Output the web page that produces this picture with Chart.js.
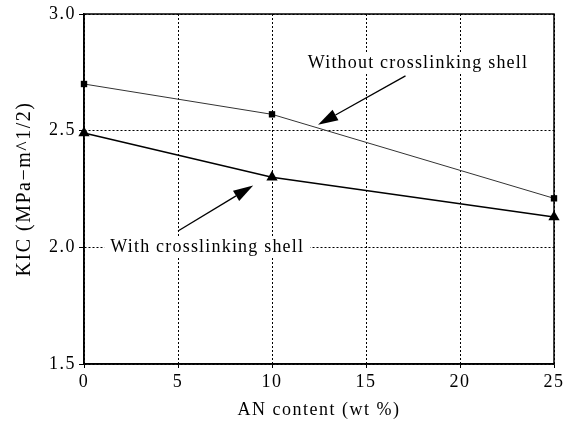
<!DOCTYPE html>
<html>
<head>
<meta charset="utf-8">
<script src="https://cdn.jsdelivr.net/npm/chart.js@4/dist/chart.umd.min.js"></script>
<style>
  html, body { margin: 0; padding: 0; background: #fff; }
  #wrap { width: 569px; height: 424px; }
</style>
</head>
<body>
<div id="wrap"><canvas id="kic-chart"></canvas></div>
<script>
const anContent = [0, 10, 25];
const withoutShell = [2.70, 2.57, 2.21];
const withShell = [2.49, 2.30, 2.13];
const xTicks = [0, 5, 10, 15, 20, 25];
const yTicks = [1.5, 2.0, 2.5, 3.0];

// annotation labels and arrows, in data units
const notes = [
    { text: 'Without crosslinking shell', x: 11.9, y: 2.79, from: [17.1, 2.735], to: [12.45, 2.525] },
    { text: 'With crosslinking shell', x: 1.4, y: 2.0, from: [5.0, 2.07], to: [9.0, 2.265] }
];

const serif = '"Liberation Serif", "Times New Roman", serif';

let drawArrow = (ctx, x1, y1, x2, y2) => {
    let ang = Math.atan2(y2 - y1, x2 - x1);
    let len = 20, half = 6;
    let bx = x2 - len * Math.cos(ang), by = y2 - len * Math.sin(ang);
    ctx.beginPath();
    ctx.moveTo(x1, y1);
    ctx.lineTo(bx, by);
    ctx.lineWidth = 1.3;
    ctx.strokeStyle = '#000';
    ctx.stroke();
    ctx.beginPath();
    ctx.moveTo(x2, y2);
    ctx.lineTo(bx + half * Math.sin(ang), by - half * Math.cos(ang));
    ctx.lineTo(bx - half * Math.sin(ang), by + half * Math.cos(ang));
    ctx.closePath();
    ctx.fillStyle = '#000';
    ctx.fill();
};

// wide letter spacing like the scanned figure
const spacingPlugin = {
    id: 'spacing',
    beforeLayout(chart) { chart.ctx.letterSpacing = '1.5px'; },
    beforeDraw(chart) { chart.ctx.letterSpacing = '1.5px'; }
};

const notesPlugin = {
    id: 'notes',
    beforeDatasetsDraw(chart) {
        let ctx = chart.ctx, a = chart.chartArea;
        let xs = chart.scales.x, ys = chart.scales.y;
        ctx.save();
        ctx.strokeStyle = '#000';
        ctx.lineWidth = 1.5;
        ctx.strokeRect(a.left, a.top, a.right - a.left, a.bottom - a.top);
        ctx.font = '18px ' + serif;
        ctx.letterSpacing = '1.2px';
        ctx.textBaseline = 'middle';
        notes.forEach(n => {
            let px = xs.getPixelForValue(n.x), py = ys.getPixelForValue(n.y);
            let w = ctx.measureText(n.text).width;
            ctx.fillStyle = '#fff';
            ctx.fillRect(px - 6, py - 10, w + 12, 20);
            ctx.fillStyle = '#000';
            ctx.fillText(n.text, px, py);
            drawArrow(ctx,
                xs.getPixelForValue(n.from[0]), ys.getPixelForValue(n.from[1]),
                xs.getPixelForValue(n.to[0]), ys.getPixelForValue(n.to[1]));
        });
        ctx.restore();
    }
};

let ctx = document.getElementById('kic-chart').getContext('2d');
let chart = new Chart(ctx, {
    type: 'line',
    data: {
        datasets: [{
            label: 'Without crosslinking shell',
            data: anContent.map((x, i) => ({ x: x, y: withoutShell[i] })),
            borderColor: '#333',
            borderWidth: 1,
            pointStyle: 'rect',
            pointRadius: 4.5,
            pointBackgroundColor: '#000',
            pointBorderColor: '#000',
            pointBorderWidth: 0,
            clip: false,
            tension: 0
        }, {
            label: 'With crosslinking shell',
            data: anContent.map((x, i) => ({ x: x, y: withShell[i] })),
            borderColor: '#000',
            borderWidth: 1.5,
            pointStyle: 'triangle',
            pointRadius: 6.5,
            pointBackgroundColor: '#000',
            pointBorderColor: '#000',
            pointBorderWidth: 0,
            clip: false,
            tension: 0
        }]
    },
    options: {
        responsive: true,
        maintainAspectRatio: false,
        animation: false,
        layout: { padding: { top: 14, right: 15, left: 0, bottom: 0 } },
        plugins: {
            legend: { display: false },
            tooltip: { enabled: false }
        },
        scales: {
            x: {
                type: 'linear',
                min: 0,
                max: 25,
                afterBuildTicks: s => { s.ticks = xTicks.map(v => ({ value: v })); },
                afterFit: s => { s.height = 60; },
                ticks: {
                    color: '#000',
                    font: { family: serif, size: 18 },
                    padding: 3,
                    maxRotation: 0
                },
                grid: {
                    color: '#000',
                    lineWidth: 1,
                    tickLength: 4,
                    tickBorderDash: []
                },
                border: { display: true, color: '#000', width: 1.5, dash: [2, 2] },
                title: {
                    display: true,
                    text: 'AN content (wt %)',
                    color: '#000',
                    font: { family: serif, size: 18 },
                    padding: { top: 0, bottom: 3 }
                }
            },
            y: {
                type: 'linear',
                min: 1.5,
                max: 3.0,
                afterBuildTicks: s => { s.ticks = yTicks.map(v => ({ value: v })); },
                afterFit: s => { s.width = 84; },
                ticks: {
                    color: '#000',
                    font: { family: serif, size: 18 },
                    padding: 3,
                    callback: v => v.toFixed(1)
                },
                grid: {
                    color: '#000',
                    lineWidth: 1,
                    tickLength: 5,
                    tickBorderDash: []
                },
                border: { display: true, color: '#000', width: 1.5, dash: [2, 2] },
                title: {
                    display: true,
                    text: 'KIC (MPa\u2212m^1/2)',
                    color: '#000',
                    font: { family: serif, size: 20 },
                    padding: { top: 13, bottom: 0 }
                }
            }
        }
    },
    plugins: [spacingPlugin, notesPlugin]
});
</script>
</body>
</html>
